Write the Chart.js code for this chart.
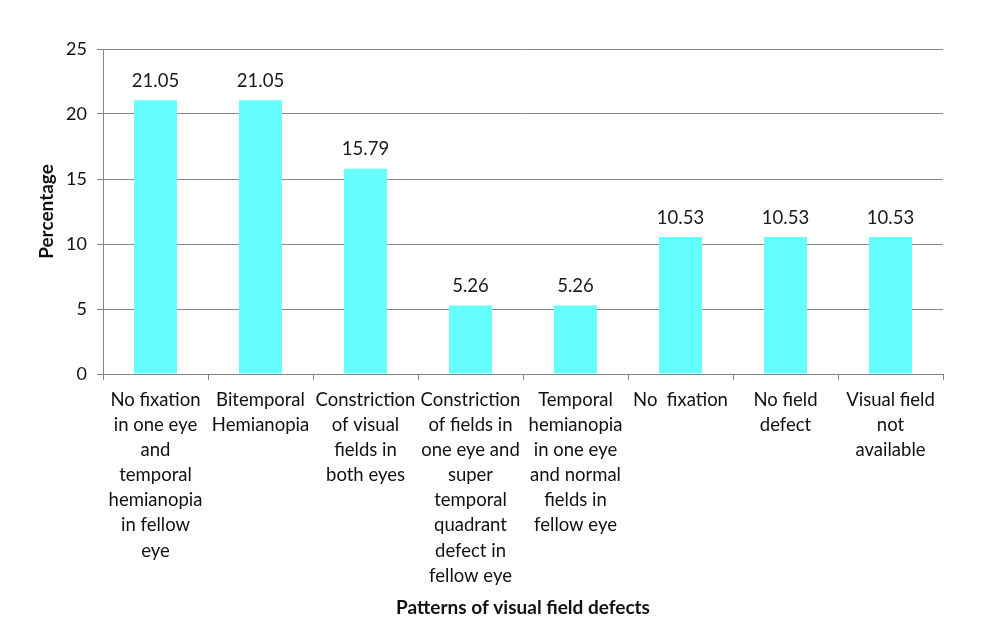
<!DOCTYPE html>
<html>
<head>
<meta charset="utf-8">
<script src="https://cdn.jsdelivr.net/npm/chart.js@4/dist/chart.umd.min.js"></script>
<style>
  html, body { margin: 0; padding: 0; background: #fff; }
  #wrap { width: 1000px; height: 644px; }
</style>
</head>
<body>
<div id="wrap"><canvas id="chart"></canvas></div>
<script>
  'use strict';

  var categories = [
    ['No fixation', 'in one eye', 'and', 'temporal', 'hemianopia', 'in fellow', 'eye'],
    ['Bitemporal', 'Hemianopia'],
    ['Constriction', 'of visual', 'fields in', 'both eyes'],
    ['Constriction', 'of fields in', 'one eye and', 'super', 'temporal', 'quadrant', 'defect in', 'fellow eye'],
    ['Temporal', 'hemianopia', 'in one eye', 'and normal', 'fields in', 'fellow eye'],
    ['No  fixation'],
    ['No field', 'defect'],
    ['Visual field', 'not', 'available']
  ];
  var percentages = [21.05, 21.05, 15.79, 5.26, 5.26, 10.53, 10.53, 10.53];
  var yTicks = [0, 5, 10, 15, 20, 25];

  var FONT = 'Lato, "Open Sans", sans-serif';
  var GRID = '#868686';

  // Value labels above each bar
  var valueLabels = {
    id: 'valueLabels',
    afterDatasetsDraw: function(chart) {
      var ctx = chart.ctx;
      var meta = chart.getDatasetMeta(0);
      ctx.save();
      ctx.font = '18.5px ' + FONT;
      ctx.fillStyle = '#1a1a1a';
      ctx.textAlign = 'center';
      ctx.textBaseline = 'bottom';
      meta.data.forEach(function(bar, i) {
        ctx.fillText(percentages[i].toFixed(2), bar.x, bar.y - 10);
      });
      ctx.restore();
    }
  };

  new Chart(document.getElementById('chart').getContext('2d'), {
    type: 'bar',
    data: {
      labels: categories,
      datasets: [{
        data: percentages,
        backgroundColor: '#66ffff',
        borderWidth: 0,
        barPercentage: 0.41,
        categoryPercentage: 1
      }]
    },
    options: {
      responsive: true,
      maintainAspectRatio: false,
      animation: false,
      layout: { padding: { top: 49, right: 57, left: 0, bottom: 0 } },
      plugins: {
        legend: { display: false },
        tooltip: { enabled: false }
      },
      scales: {
        x: {
          afterFit: function(scale) { scale.height = 270; },
          grid: {
            offset: true,
            drawOnChartArea: false,
            drawTicks: true,
            tickLength: 6,
            color: GRID
          },
          border: { display: true, color: GRID },
          ticks: {
            color: '#111',
            padding: 7,
            maxRotation: 0,
            autoSkip: false,
            font: { family: FONT, size: 18.5, lineHeight: 1.36 }
          },
          title: {
            display: true,
            text: 'Patterns of visual field defects',
            color: '#111',
            font: { family: FONT, size: 19, weight: 'bold' },
            padding: { top: 0, bottom: 25 }
          }
        },
        y: {
          min: 0,
          max: 25,
          afterFit: function(scale) { scale.width = 103; },
          afterBuildTicks: function(scale) {
            scale.ticks = yTicks.map(function(v) { return { value: v }; });
          },
          grid: {
            color: GRID,
            drawTicks: true,
            tickLength: 6
          },
          border: { display: true, color: GRID },
          ticks: {
            color: '#111',
            padding: 10,
            font: { family: FONT, size: 18 }
          },
          title: {
            display: true,
            text: 'Percentage',
            color: '#111',
            font: { family: FONT, size: 19, weight: 'bold' },
            padding: { top: 35, bottom: 0 }
          }
        }
      }
    },
    plugins: [valueLabels]
  });
</script>
</body>
</html>
